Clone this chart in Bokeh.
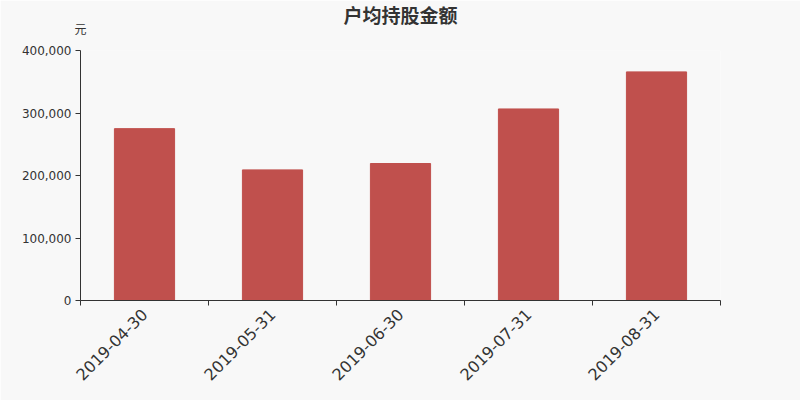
import math
from bokeh.plotting import figure
from bokeh.models import (Range1d, FixedTicker, NumeralTickFormatter, Title,
                          ColumnDataSource, LinearAxis)
from bokeh.embed import file_html
from bokeh.resources import INLINE

title_text = "户均持股金额"
unit_text = "元"
dates = ["2019-04-30", "2019-05-31", "2019-06-30", "2019-07-31", "2019-08-31"]
amounts = [275000, 209000, 219200, 306500, 365800]
y_ticks = [0, 100000, 200000, 300000, 400000]

n = len(dates)
centers = [i + 0.5 for i in range(n)]
bounds = list(range(n + 1))

BG = "#f8f8f8"
TXT = "#333333"

p = figure(width=800, height=400, output_backend="svg", toolbar_location=None,
           x_range=Range1d(0, n), y_range=Range1d(0, y_ticks[-1]),
           min_border_left=80, min_border_right=80, min_border_top=50, min_border_bottom=100)
p.background_fill_color = BG
p.border_fill_color = BG
p.outline_line_color = None
p.xgrid.visible = False
p.ygrid.visible = False

src = ColumnDataSource(dict(x=centers, top=amounts, label=dates))
p.vbar(x="x", top="top", width=0.47, bottom=0, source=src,
       fill_color="#c0504d", line_color="#c0504d")

# y axis
ya = p.yaxis[0]
ya.ticker = FixedTicker(ticks=y_ticks)
ya.formatter = NumeralTickFormatter(format="0,0")
ya.axis_line_color = TXT
ya.major_tick_line_color = TXT
ya.major_tick_out = 5
ya.major_tick_in = 0
ya.minor_tick_line_color = None
ya.major_label_text_font = "DejaVu Sans"
ya.major_label_text_font_size = "12px"
ya.major_label_text_color = TXT
ya.major_label_standoff = 4

# x axis: labels at centers, ticks at boundaries
xa = p.xaxis[0]
xa.ticker = FixedTicker(ticks=centers, minor_ticks=bounds)
xa.major_label_overrides = {c: d for c, d in zip(centers, dates)}
xa.axis_line_color = TXT
xa.major_tick_out = 0
xa.major_tick_in = 0
xa.minor_tick_line_color = TXT
xa.minor_tick_out = 5
xa.minor_tick_in = 0
xa.major_label_orientation = math.pi / 4
xa.major_label_text_font = "DejaVu Sans"
xa.major_label_text_font_size = "16px"
xa.major_label_text_color = TXT
xa.major_label_standoff = 6

# unit label "元" above the top of the y axis, via an unlined axis on top
ua = LinearAxis(ticker=FixedTicker(ticks=[bounds[0]]),
                major_label_overrides={bounds[0]: unit_text})
ua.axis_line_color = None
ua.major_tick_line_color = None
ua.minor_tick_line_color = None
ua.major_tick_out = 0
ua.major_tick_in = 0
ua.major_label_standoff = 14
ua.major_label_text_font = "Noto Sans CJK SC"
ua.major_label_text_font_size = "12px"
ua.major_label_text_color = TXT
p.add_layout(ua, "above")

p.add_layout(Title(text=title_text, align="center", standoff=-23,
                   text_font="Noto Sans CJK SC", text_font_size="19px",
                   text_font_style="bold", text_color=TXT), "above")

open("out.html", "w").write(file_html(p, INLINE))
